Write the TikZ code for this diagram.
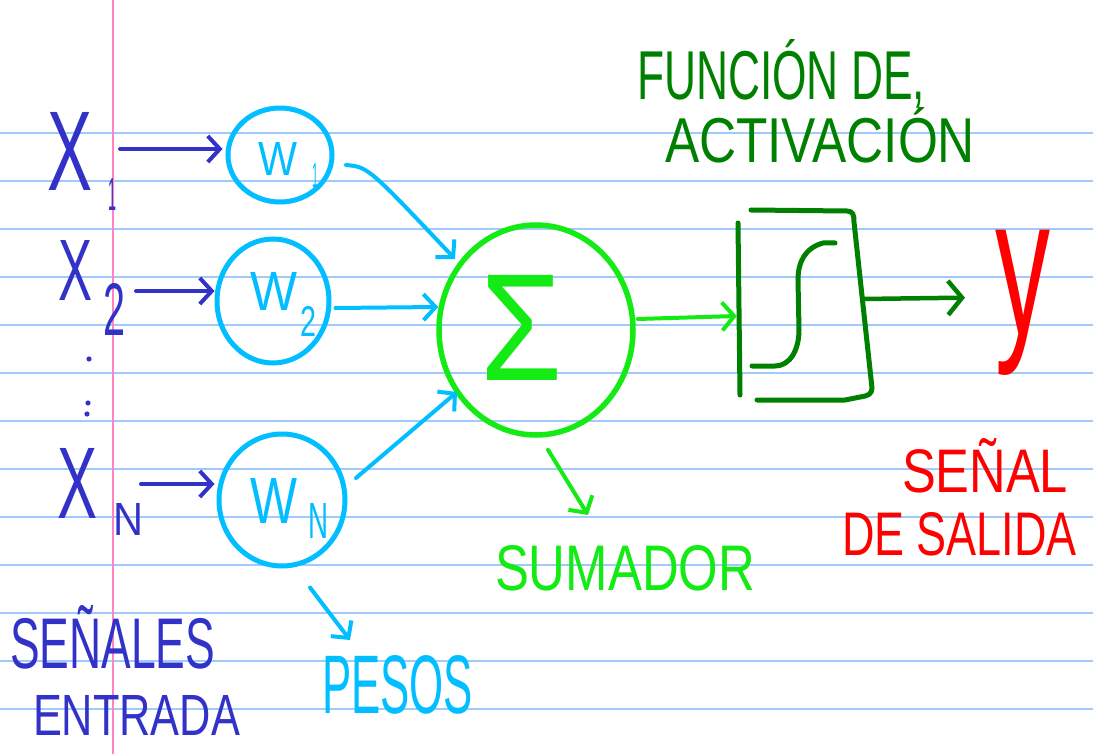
\documentclass[tikz,border=0pt]{standalone}
\usepackage{fontspec}
\setmainfont{Liberation Sans}
\usepackage{graphicx}
\usetikzlibrary{arrows.meta,calc,shapes.geometric}

\definecolor{ruled}{RGB}{160,202,250}
\definecolor{margin}{RGB}{255,130,195}
\definecolor{xblue}{RGB}{50,50,200}
\definecolor{wblue}{RGB}{0,190,255}
\definecolor{sgreen}{RGB}{20,235,20}
\definecolor{dgreen}{RGB}{0,128,0}
\definecolor{ored}{RGB}{255,0,0}

\newcommand{\fitbox}[3]{\resizebox{#1pt}{#2pt}{#3}}
\newcommand{\fitboxd}[3]{\resizebox*{#1pt}{#2pt}{#3}}

\begin{document}
\begin{tikzpicture}[x=1pt,y=-1pt,
  txt/.style={inner sep=0pt,outer sep=0pt,anchor=north west},
  wcirc/.style={ellipse,draw=wblue,line width=5,inner sep=0pt},
  scirc/.style={ellipse,draw=sgreen,line width=5.5,inner sep=0pt},
  xarr/.style={draw=xblue,line width=4,line cap=round,line join=round,-{Straight Barb[length=12pt,width=26pt]}},
  warr/.style={draw=wblue,line width=4,line cap=round,line join=round,-{Straight Barb[length=12pt,width=26pt]}},
  garr/.style={draw=sgreen,line width=4,line cap=round,line join=round,-{Straight Barb[length=12pt,width=28pt]}},
  darr/.style={draw=dgreen,line width=4.5,line cap=round,line join=round,-{Straight Barb[length=14pt,width=34pt]}},
  boxline/.style={draw=dgreen,line width=5,line cap=round,line join=round},
  rule/.style={draw=ruled,line width=2.2}]

\fill[white] (0,0) rectangle (1093,754);
\path[use as bounding box] (0,0) rectangle (1093,754);

% ruled paper
\foreach \k in {0,...,12} {
  \draw[rule] (0,{132.7+48*\k}) -- (1093,{132.7+48*\k});
}
\draw[draw=margin,line width=2] (112.7,0) -- (112.7,754);

% inputs
\node[txt,text=xblue] (x1) at (47,112) {\fitbox{45}{78}{X}};
\node[txt,text=xblue] (s1) at (108,178) {\fitbox{8}{32}{1}};
\node[txt,text=xblue] (x2) at (58,240) {\fitbox{34}{60}{X}};
\node[txt,text=xblue] (s2) at (103,283) {\fitbox{22}{52}{2}};
\node[txt,text=xblue] (xn) at (57,448) {\fitbox{40}{70}{X}};
\node[txt,text=xblue] (sn) at (113,503) {\fitbox{30}{32}{N}};
\fill[xblue] (89,359) circle (2.6) (88,403) circle (2.6) (87,414) circle (2.6);

% weights
\node[wcirc,minimum width=104,minimum height=94] (w1) at (280,155) {};
\node[wcirc,minimum width=112,minimum height=124] (w2) at (273,301) {};
\node[wcirc,minimum width=126,minimum height=132] (wn) at (282,500) {};
\node[txt,text=wblue] (w1t) at (258,142) {\fitbox{39}{33}{W}};
\node[txt,text=wblue] (w1s) at (312,163) {\fitbox{6}{24}{1}};
\node[txt,text=wblue] (w2t) at (250,272) {\fitbox{47}{38}{W}};
\node[txt,text=wblue] (w2s) at (300,307) {\fitbox{16}{30}{2}};
\node[txt,text=wblue] (wnt) at (250,478) {\fitbox{47}{45}{W}};
\node[txt,text=wblue] (wns) at (308,503) {\fitbox{20}{35}{N}};

% summer
\node[scirc,minimum width=194,minimum height=210] (sum) at (536,330) {};
\node[txt,text=sgreen] (sigma) at (480,275) {\fitbox{82}{105}{Σ}};

% activation box
\node[inner sep=0pt,minimum width=132,minimum height=191] (act) at (804,305) {};
\draw[boxline] (738,223) -- (740,395);
\draw[boxline] (751,210) -- (847,211) .. controls (853,211) and (854,215) .. (854,222)
  -- (872,388) .. controls (872,394) and (868,396) .. (860,397) -- (845,400) -- (757,400);
\draw[boxline] (835,243) -- (823,243) .. controls (805,248) and (798,262) .. (798,280)
  -- (799,330) .. controls (799,350) and (790,366) .. (775,366) -- (752,366);

% output
\node[txt,text=ored] (y) at (995,230) {\fitboxd{55}{145}{y}};

% input arrows
\draw[xarr] ($(s1.east |- w1.west)+(4,-6)$) -- ($(w1.west)+(-3,-6)$);
\draw[xarr] ($(s2.east |- w2.west)+(11,-10)$) -- ($(w2.west)+(0,-10)$);
\draw[xarr] ($(sn.east |- wn.west)+(-2,-16)$) -- ($(wn.west)+(-2,-16)$);

% weight arrows
\draw[warr] ($(w1.center)+(66,10)$) .. controls ($(w1.center)+(88,12)$) .. ($(sum.center)+(-81,-71)$);
\draw[warr] ($(w2.east)+(4,7)$) -- ($(sum.west)+(2,-23)$);
\draw[warr] ($(wn.center)+(74,-22)$) -- ($(sum.center)+(-79,62)$);

% summer -> activation -> y
\draw[garr] ($(sum.east)+(2,-11)$) -- ($(act.west)+(-1,11)$);
\draw[darr] ($(act.east)+(-7,-6)$) -- ($(y.west)+(-30,-5)$);

% labels
\node[txt,text=dgreen] (fun) at (637,40) {\fitbox{288}{60}{FUNCIÓN DE,}};
\node[txt,text=dgreen] (activ) at (665,108) {\fitbox{310}{55}{ACTIVACIÓN}};
\node[txt,text=sgreen] (sumador) at (495,545) {\fitbox{260}{45}{SUMADOR}};
\node[txt,text=ored] (senal) at (902,438) {\fitbox{166}{54}{SEÑAL}};
\node[txt,text=ored] (desal) at (842,512) {\fitbox{235}{43}{DE SALIDA}};
\node[txt,text=xblue] (sen) at (10,605) {\fitbox{205}{63}{SEÑALES}};
\node[txt,text=xblue] (ent) at (33,695) {\fitbox{207}{40}{ENTRADA}};
\node[txt,text=wblue] (pesos) at (322,655) {\fitbox{151}{58}{PESOS}};

% label arrows
\draw[garr] ($(sum.south)+(12,12)$) -- ($(sumador.north west)+(93,-30)$);
\draw[warr] ($(wn.south)+(28,19)$) -- ($(pesos.north west)+(28,-15)$);

\end{tikzpicture}
\end{document}
